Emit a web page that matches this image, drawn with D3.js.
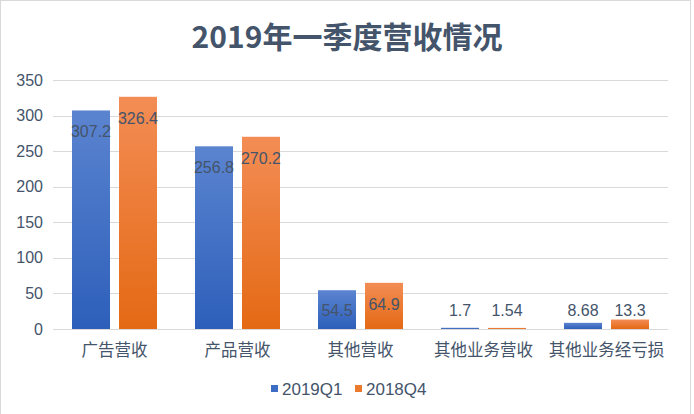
<!DOCTYPE html>
<html><head><meta charset="utf-8">
<script src="https://cdn.jsdelivr.net/npm/d3@7"></script>
<style>body{margin:0;background:#fff}svg{display:block}</style>
</head><body>
<svg id="c" width="694" height="414"></svg>
<script>
const categories = ["广告营收","产品营收","其他营收","其他业务营收","其他业务经亏损"];
const seriesNames = ["2019Q1","2018Q4"];
const q1_2019 = [307.2,256.8,54.5,1.7,8.68];
const q4_2018 = [326.4,270.2,64.9,1.54,13.3];
const labels_2019 = ["307.2","256.8","54.5","1.7","8.68"];
const labels_2018 = ["326.4","270.2","64.9","1.54","13.3"];
const yTicks = [0,50,100,150,200,250,300,350];
const title = "2019年一季度营收情况";

(function(){
const svg = d3.select("#c");
const font = "'Liberation Sans', Arial, 'Noto Sans CJK SC', sans-serif";
const cjk = "'Noto Sans CJK SC', sans-serif";
const txt = "#44546a";

const defs = svg.append("defs");
const grads = [["gb","#5b84d0","#2d5fba"],["go","#f38d55","#e46914"]];
grads.forEach(([id,a,b])=>{
  const g = defs.append("linearGradient").attr("id",id).attr("x1",0).attr("y1",0).attr("x2",0).attr("y2",1);
  g.append("stop").attr("offset","0%").attr("stop-color",a);
  g.append("stop").attr("offset","100%").attr("stop-color",b);
});

svg.append("rect").attr("x",0.5).attr("y",0.5).attr("width",690).attr("height",420)
  .attr("fill","#fff").attr("stroke","#d9d9d9");

svg.append("text").attr("x",347).attr("y",48).attr("text-anchor","middle")
  .attr("font-family",cjk).attr("font-weight","bold").attr("font-size",30)
  .attr("fill",txt).text(title);

const pLeft=53, pRight=668, pTop=80, pBottom=329;
const y = d3.scaleLinear().domain([0,350]).range([pBottom,pTop]);
const x = d3.scaleBand().domain(categories).range([pLeft,pRight]).paddingInner(0).paddingOuter(0);
const xs = d3.scaleBand().domain(seriesNames).range([19,104]).paddingInner(9/47);

const grid = svg.append("g");
yTicks.forEach(t=>{
  grid.append("line").attr("x1",pLeft).attr("x2",pRight).attr("y1",Math.round(y(t))+0.5).attr("y2",Math.round(y(t))+0.5)
    .attr("stroke","#d9d9d9").attr("stroke-width",1);
});
const yAxis = svg.append("g").attr("transform",`translate(${pLeft},0)`)
  .call(d3.axisLeft(y).tickValues(yTicks).tickSize(0).tickPadding(10));
yAxis.select(".domain").remove();
yAxis.selectAll("text").attr("font-family",font).attr("font-size",16).attr("fill",txt);

const xAxis = svg.append("g").attr("transform",`translate(0,${pBottom})`)
  .call(d3.axisBottom(x).tickSize(0).tickPadding(15));
xAxis.select(".domain").remove();
xAxis.selectAll("text").attr("font-family",cjk).attr("font-size",16.5).attr("fill",txt);

const series = [
  {name:seriesNames[0], values:q1_2019, labels:labels_2019, fill:"url(#gb)"},
  {name:seriesNames[1], values:q4_2018, labels:labels_2018, fill:"url(#go)"}
];
series.forEach(s=>{
  const g = svg.append("g");
  categories.forEach((c,i)=>{
    const bx = x(c)+xs(s.name);
    const by = y(s.values[i]);
    g.append("rect").attr("x",bx).attr("y",by).attr("width",xs.bandwidth())
      .attr("height",pBottom-by).attr("fill",s.fill);
    const ly = Math.min(by+21, 310);
    g.append("text").attr("x",bx+xs.bandwidth()/2).attr("y",ly+6).attr("text-anchor","middle")
      .attr("font-family",font).attr("font-size",16).attr("fill",txt).text(s.labels[i]);
  });
});

const legend = svg.append("g");
[[271,"#3d6cc4",seriesNames[0]],[355,"#ec7a2c",seriesNames[1]]].forEach(([lx,col,name])=>{
  legend.append("rect").attr("x",lx).attr("y",385).attr("width",7).attr("height",7).attr("fill",col);
  legend.append("text").attr("x",lx+11).attr("y",395).attr("font-family",font)
    .attr("font-size",17).attr("fill",txt).text(name);
});
})();
</script>
</body></html>
